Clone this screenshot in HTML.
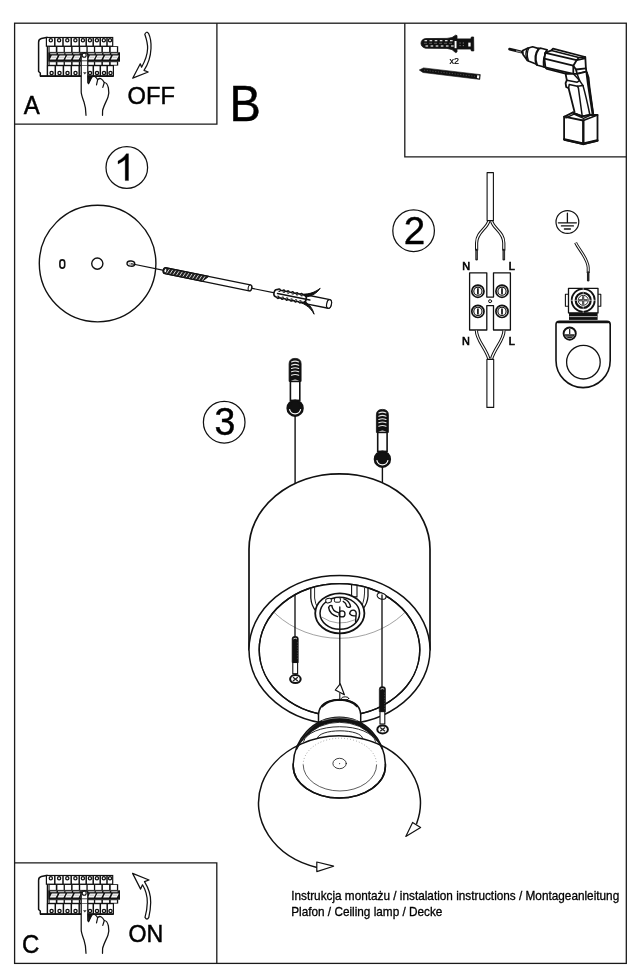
<!DOCTYPE html>
<html>
<head>
<meta charset="utf-8">
<title>Instrukcja montazu</title>
<style>
html,body{margin:0;padding:0;background:#fff;}
body{width:640px;height:980px;overflow:hidden;font-family:"Liberation Sans",sans-serif;}
svg{display:block;position:absolute;left:0;top:0;filter:grayscale(1);}
text{font-family:"Liberation Sans",sans-serif;fill:#000;}
.l{fill:none;stroke:#111;stroke-linecap:round;stroke-linejoin:round;}
.t{fill:none;stroke:#111;stroke-linecap:round;stroke-linejoin:round;}
.w{fill:#fff;stroke:#111;stroke-linecap:round;stroke-linejoin:round;}
.wt{fill:#fff;stroke:#111;stroke-linecap:round;stroke-linejoin:round;}
.k{fill:#111;stroke:none;}
</style>
</head>
<body>
<svg width="640" height="980" viewBox="0 0 640 980">
<rect x="0" y="0" width="640" height="980" fill="#fff"/>

<!-- FRAME -->
<g id="frame" fill="none" stroke="#1a1a1a" stroke-width="1.3">
<rect x="14.6" y="23.2" width="611.7" height="940.2"/>
<path d="M14.6 124.2H216.9V23.2"/>
<path d="M404.8 23.2V156.8H626.3"/>
<path d="M14.6 862.8H216.8V963.4"/>
</g>

<!-- LABELS -->
<g id="labels" stroke="#000" stroke-width="0.45">
<text transform="translate(23.7 113.8) scale(1 1.04)" font-size="24">A</text>
<text transform="translate(127.5 104) scale(1 1.04)" font-size="23.7">OFF</text>
<text transform="translate(229.6 120.9) scale(1 1.045)" font-size="47">B</text>
<text transform="translate(22 953) scale(1 1.04)" font-size="24">C</text>
<text transform="translate(128.5 942.2) scale(1 1.04)" font-size="23.2">ON</text>
<text transform="translate(291.2 899.8) scale(1 1.04)" font-size="11.8" stroke="#000" stroke-width="0.28">Instrukcja montażu / instalation instructions / Montageanleitung</text>
<text transform="translate(291.2 915.8) scale(1 1.04)" font-size="11.8" stroke="#000" stroke-width="0.28">Plafon / Ceiling lamp / Decke</text>
</g>

<!-- STEP NUMBERS -->
<g id="nums" stroke="#000" stroke-width="0.4">
<circle cx="126.8" cy="167.5" r="20.8" class="l" stroke-width="1.25"/>
<path d="M128.5 153.7 V180.6 H125.2 V159.6 Q122.4 162 118 164 V161 Q123.8 158 126.3 153.7Z" fill="#000" stroke="#000" stroke-width="0.3"/>
<circle cx="413.6" cy="230.7" r="20.8" class="l" stroke-width="1.25"/>
<text transform="translate(403.7 243.9) scale(1.03 1.04)" font-size="37.5">2</text>
<circle cx="224.2" cy="422.2" r="20.8" class="l" stroke-width="1.25"/>
<text transform="translate(214.6 435.3) scale(1 1.04)" font-size="37.5">3</text>
</g>

<g id="brk">
<path class="w" stroke-width="1.5" d="M46.4 37.5 L41.4 38.5 Q38.6 39.3 38.6 42.2 V71.5 L40.3 73 V76 H47.5 V37.5Z"/>
<rect x="46.4" y="37.5" width="66.3" height="8.7" fill="#fff" stroke="#111" stroke-width="1.2"/>
<circle cx="50.8" cy="40.3" r="1.6" fill="#fff" stroke="#111" stroke-width="1.3"/>
<path d="M54.8 37.5V46.2" stroke="#111" stroke-width="1.5" fill="none"/>
<circle cx="59.1" cy="40.3" r="1.6" fill="#fff" stroke="#111" stroke-width="1.3"/>
<path d="M63.0 37.5V46.2" stroke="#111" stroke-width="1.5" fill="none"/>
<circle cx="67.3" cy="40.3" r="1.6" fill="#fff" stroke="#111" stroke-width="1.3"/>
<path d="M71.2 37.5V46.2" stroke="#111" stroke-width="1.5" fill="none"/>
<circle cx="75.4" cy="40.3" r="1.6" fill="#fff" stroke="#111" stroke-width="1.3"/>
<path d="M79.2 37.5V46.2" stroke="#111" stroke-width="1.5" fill="none"/>
<circle cx="82.9" cy="40.3" r="1.6" fill="#fff" stroke="#111" stroke-width="1.3"/>
<path d="M86.2 37.5V46.2" stroke="#111" stroke-width="1.5" fill="none"/>
<circle cx="89.9" cy="40.3" r="1.6" fill="#fff" stroke="#111" stroke-width="1.3"/>
<path d="M93.2 37.5V46.2" stroke="#111" stroke-width="1.5" fill="none"/>
<circle cx="96.9" cy="40.3" r="1.6" fill="#fff" stroke="#111" stroke-width="1.3"/>
<path d="M100.2 37.5V46.2" stroke="#111" stroke-width="1.5" fill="none"/>
<circle cx="103.8" cy="40.3" r="1.6" fill="#fff" stroke="#111" stroke-width="1.3"/>
<path d="M107.0 37.5V46.2" stroke="#111" stroke-width="1.5" fill="none"/>
<circle cx="110.0" cy="40.3" r="1.6" fill="#fff" stroke="#111" stroke-width="1.3"/>
<rect x="48.6" y="46.2" width="69.6" height="6.3" fill="#111"/>
<rect x="49.6" y="47" width="6.2" height="4.9" fill="#fff"/>
<rect x="57.4" y="47" width="6.2" height="4.9" fill="#fff"/>
<rect x="64.9" y="47" width="6.2" height="4.9" fill="#fff"/>
<rect x="72.6" y="47" width="6.2" height="4.9" fill="#fff"/>
<rect x="80.2" y="47" width="6.2" height="4.9" fill="#fff"/>
<rect x="87.7" y="47" width="6.2" height="4.9" fill="#fff"/>
<rect x="95.2" y="47" width="6.2" height="4.9" fill="#fff"/>
<rect x="102.9" y="47" width="6.2" height="4.9" fill="#fff"/>
<rect x="110.7" y="47" width="6.2" height="4.9" fill="#fff"/>
<rect x="48.2" y="52.3" width="71.8" height="9.4" fill="#111"/>
<rect x="50.2" y="53.3" width="6.3" height="0.9" fill="#e8e8e8"/>
<path d="M49.800000000000004 59.6 L51.800000000000004 55.5 H57.7 L55.7 59.6Z" fill="#fff"/>
<path d="M51.1 58.2 L51.9 56.6 H56.5 L55.7 58.2Z" fill="#cfcfcf"/>
<rect x="58.0" y="53.3" width="6.3" height="0.9" fill="#e8e8e8"/>
<path d="M57.6 59.6 L59.6 55.5 H65.5 L63.5 59.6Z" fill="#fff"/>
<path d="M58.9 58.2 L59.699999999999996 56.6 H64.3 L63.5 58.2Z" fill="#cfcfcf"/>
<rect x="65.5" y="53.3" width="6.3" height="0.9" fill="#e8e8e8"/>
<path d="M65.10000000000001 59.6 L67.10000000000001 55.5 H73.0 L71.0 59.6Z" fill="#fff"/>
<path d="M66.4 58.2 L67.2 56.6 H71.80000000000001 L71.0 58.2Z" fill="#cfcfcf"/>
<rect x="73.19999999999999" y="53.3" width="6.3" height="0.9" fill="#e8e8e8"/>
<path d="M72.8 59.6 L74.8 55.5 H80.69999999999999 L78.69999999999999 59.6Z" fill="#fff"/>
<path d="M74.1 58.2 L74.89999999999999 56.6 H79.5 L78.69999999999999 58.2Z" fill="#cfcfcf"/>
<rect x="80.8" y="53.3" width="6.3" height="0.9" fill="#e8e8e8"/>
<path d="M80.4 59.6 L82.4 55.5 H88.3 L86.3 59.6Z" fill="#fff"/>
<path d="M81.7 58.2 L82.5 56.6 H87.10000000000001 L86.3 58.2Z" fill="#cfcfcf"/>
<rect x="88.3" y="53.3" width="6.3" height="0.9" fill="#e8e8e8"/>
<path d="M87.9 59.6 L89.9 55.5 H95.8 L93.8 59.6Z" fill="#fff"/>
<path d="M89.2 58.2 L90.0 56.6 H94.60000000000001 L93.8 58.2Z" fill="#cfcfcf"/>
<rect x="95.8" y="53.3" width="6.3" height="0.9" fill="#e8e8e8"/>
<path d="M95.4 59.6 L97.4 55.5 H103.3 L101.3 59.6Z" fill="#fff"/>
<path d="M96.7 58.2 L97.5 56.6 H102.10000000000001 L101.3 58.2Z" fill="#cfcfcf"/>
<rect x="103.5" y="53.3" width="6.3" height="0.9" fill="#e8e8e8"/>
<path d="M103.10000000000001 59.6 L105.10000000000001 55.5 H111.0 L109.0 59.6Z" fill="#fff"/>
<path d="M104.4 58.2 L105.2 56.6 H109.80000000000001 L109.0 58.2Z" fill="#cfcfcf"/>
<rect x="111.3" y="53.3" width="6.3" height="0.9" fill="#e8e8e8"/>
<path d="M110.9 59.6 L112.9 55.5 H118.8 L116.8 59.6Z" fill="#fff"/>
<path d="M112.2 58.2 L113.0 56.6 H117.60000000000001 L116.8 58.2Z" fill="#cfcfcf"/>
<rect x="48.6" y="61.5" width="69.6" height="4.1" fill="#111"/>
<rect x="49.6" y="62.2" width="6.2" height="2.6" fill="#fff"/>
<rect x="57.4" y="62.2" width="6.2" height="2.6" fill="#fff"/>
<rect x="64.9" y="62.2" width="6.2" height="2.6" fill="#fff"/>
<rect x="72.6" y="62.2" width="6.2" height="2.6" fill="#fff"/>
<rect x="80.2" y="62.2" width="6.2" height="2.6" fill="#fff"/>
<rect x="87.7" y="62.2" width="6.2" height="2.6" fill="#fff"/>
<rect x="95.2" y="62.2" width="6.2" height="2.6" fill="#fff"/>
<rect x="102.9" y="62.2" width="6.2" height="2.6" fill="#fff"/>
<rect x="110.7" y="62.2" width="6.2" height="2.6" fill="#fff"/>
<rect x="47.5" y="65.6" width="65.9" height="10.3" fill="#fff" stroke="#111" stroke-width="1.2"/>
<circle cx="51.6" cy="73" r="1.6" fill="#fff" stroke="#111" stroke-width="1.35"/>
<path d="M55.3 65.6V76" stroke="#111" stroke-width="1.5" fill="none"/>
<circle cx="59.5" cy="73" r="1.6" fill="#fff" stroke="#111" stroke-width="1.35"/>
<path d="M63.4 65.6V76" stroke="#111" stroke-width="1.5" fill="none"/>
<circle cx="67.5" cy="73" r="1.6" fill="#fff" stroke="#111" stroke-width="1.35"/>
<path d="M71.3 65.6V76" stroke="#111" stroke-width="1.5" fill="none"/>
<circle cx="75.5" cy="73" r="1.6" fill="#fff" stroke="#111" stroke-width="1.35"/>
<path d="M79.2 65.6V76" stroke="#111" stroke-width="1.5" fill="none"/>
<circle cx="83.0" cy="73" r="1.6" fill="#fff" stroke="#111" stroke-width="1.35"/>
<path d="M86.3 65.6V76" stroke="#111" stroke-width="1.5" fill="none"/>
<circle cx="90.0" cy="73" r="1.6" fill="#fff" stroke="#111" stroke-width="1.35"/>
<path d="M93.3 65.6V76" stroke="#111" stroke-width="1.5" fill="none"/>
<circle cx="97.0" cy="73" r="1.6" fill="#fff" stroke="#111" stroke-width="1.35"/>
<path d="M100.3 65.6V76" stroke="#111" stroke-width="1.5" fill="none"/>
<circle cx="104.0" cy="73" r="1.6" fill="#fff" stroke="#111" stroke-width="1.35"/>
<path d="M107.2 65.6V76" stroke="#111" stroke-width="1.5" fill="none"/>
<circle cx="110.5" cy="73" r="1.6" fill="#fff" stroke="#111" stroke-width="1.35"/>
<path d="M40 76.2H113.6" stroke="#111" stroke-width="1.5"/>
<path fill="#fff" stroke="none" d="M86 115.3 C86 110 85.6 106.8 84 102 C82.6 98 81.3 95 81.2 92 L81.2 55.5 Q81.2 52.6 84.5 52.6 Q87.8 52.6 87.8 55.5 L87.8 82.5 L88.5 83.7 L91.6 77.2 Q94.6 74.6 97.7 79.6 Q101 76.4 104.3 82.5 Q107.2 82.6 108.4 88 Q109.4 93 108 97 C107 100 103.6 106 102.6 110.5 L102.5 115.3Z"/>
<path class="l" stroke-width="1.25" d="M86 115.3 C86 110 85.6 106.8 84 102 C82.6 98 81.3 95 81.2 92 L81.2 55.5 Q81.2 52.6 84.5 52.6 Q87.8 52.6 87.8 55.5 L87.8 82.5 L88.5 83.7 L91.6 77.2 Q94.6 74.6 97.7 79.6 Q101 76.4 104.3 82.5 Q107.2 82.6 108.4 88 Q109.4 93 108 97 C107 100 103.6 106 102.6 110.5 L102.5 115.3"/>
<path class="l" stroke-width="1.2" d="M97.7 79.6 L96.5 84.9"/>
<path class="l" stroke-width="1.2" d="M104.3 82.5 L102.8 87.4"/>
<path d="M87.8 76.2 L92 76.9 L88.5 83.9Z" fill="#111" stroke="#111" stroke-width="0.6" stroke-linejoin="round"/>
<circle cx="84.2" cy="55.2" r="2" fill="#fff" stroke="#111" stroke-width="1.1"/>
<path class="l" stroke-width="0.8" stroke="#444" d="M82.2 60.8H86.8"/>
<path class="l" stroke-width="0.6" stroke="#999" d="M82.2 65.5H86.8"/>
<path d="M83 72.2h3.6l-1.8 2.4z" fill="#333"/>
</g>
<path class="w" stroke-width="1.25" d="M144.8 34.2 C146.8 40 147.8 44 147.6 48.5 C147.4 55 144.8 61.5 141.6 67.2 L140.3 63.8 L132.7 78.2 L148.2 72 L144 70.3 C147.6 65 150.6 57 151 48.5 C151.3 42 150 36.5 148.6 33.6 Q146.6 30.6 144.8 34.2Z"/>
<g id="tools">
<path fill="#111" stroke="#111" stroke-width="0.8" stroke-linejoin="round" d="M421 43.2 Q421.2 39.4 425.5 38.6 L447 38.4 L452 37.6 L455.6 35.2 L457 35.6 L457 38.9 L470.8 38.9 L471.4 37 L473.6 37 L473.8 50.9 L471.4 50.9 L470.8 49 L457 49 L457 52 L455.6 52.6 L452 49.6 L447 48.4 L425.5 48.2 Q421.2 47.2 421 43.2Z"/>
<path d="M424.5 40.7h2.6" stroke="#fff" stroke-width="1.1"/>
<path d="M425.5 46h2.6" stroke="#fff" stroke-width="1.1"/>
<path d="M429.6 40.7h2.6" stroke="#fff" stroke-width="1.1"/>
<path d="M430.6 46h2.6" stroke="#fff" stroke-width="1.1"/>
<path d="M434.7 40.7h2.6" stroke="#fff" stroke-width="1.1"/>
<path d="M435.7 46h2.6" stroke="#fff" stroke-width="1.1"/>
<path d="M439.8 40.7h2.6" stroke="#fff" stroke-width="1.1"/>
<path d="M440.8 46h2.6" stroke="#fff" stroke-width="1.1"/>
<path d="M444.9 40.7h2.6" stroke="#fff" stroke-width="1.1"/>
<path d="M445.9 46h2.6" stroke="#fff" stroke-width="1.1"/>
<path d="M450 40.7h2.6" stroke="#fff" stroke-width="1.1"/>
<path d="M451 46h2.6" stroke="#fff" stroke-width="1.1"/>
<path d="M424 43.3H452" stroke="#777" stroke-width="0.7" stroke-dasharray="3 2"/>
<rect x="454.6" y="41" width="1.9" height="7.2" fill="#fff"/>
<rect x="468.3" y="42.6" width="2.3" height="3.9" fill="#fff"/>
<path d="M459.5 43h1.2M462.8 43h1.2M459.5 45.6h1.2M462.8 45.6h1.2" stroke="#888" stroke-width="0.9"/>
<text transform="translate(449.6 63.5) scale(1 1.04)" font-size="9" stroke="#000" stroke-width="0.2">x2</text>
<path fill="#111" stroke="#111" stroke-width="0.6" stroke-linejoin="round" d="M419.3 70 L423.5 67.9 L477 74.2 L480.3 74.6 L479.8 79.4 L476.4 79 L423 72.5Z"/>
<path d="M477.2 75.2 L479.4 75.5 L479 78.4 L476.9 78.1Z" fill="#fff"/>
<path d="M424 70.2 L475 76.3" stroke="#666" stroke-width="0.7" stroke-dasharray="1.2 1.6"/>
<path d="M509.6 49.2 L523 52.4" stroke="#111" stroke-width="2.8" stroke-linecap="round"/>
<path d="M516 50.9 L521 52.1" stroke="#888" stroke-width="1.1"/>
<path class="w" stroke-width="1.7" d="M522.8 50.6 L527.6 48.2 L532.6 46.8 L538.8 48.6 L541 48.2 L547 49.8 L545 53.4 L545.4 67.4 L543.2 66.8 L537.6 65.2 L536 64 L529 61.2 L527.4 60.4 L523 54.4Z"/>
<path class="l" stroke-width="1.4" d="M527.6 48.2 Q524.4 53.6 527.4 60.4"/>
<path class="l" stroke-width="1.2" d="M529 47.7 Q525.8 54 528.6 61"/>
<path class="l" stroke-width="2.2" d="M538.8 48.6 Q533.4 56 536.8 64.6"/>
<path class="l" stroke-width="1.5" d="M547 49.8 Q542.6 57 543.6 66.8"/>
<path class="w" stroke-width="1.8" d="M545.4 52.9 L551.4 50.4 L553 48.7 L585.3 57 L585.9 68.4 L586.4 71.7 L577.1 73.9 L573.3 73.9 L564.5 73.4 L547 69 L545.4 67.4 L544.4 58.6Z"/>
<path class="l" stroke-width="1.5" d="M551.4 50.4 L578.8 57.5 L585.3 57"/>
<path class="l" stroke-width="1.8" d="M545.4 52.9 L576.6 60.2 L585 58.4"/>
<path class="l" stroke-width="1.8" d="M544.4 58.6 L573.3 65.7"/>
<path class="l" stroke-width="1.7" d="M545.4 67.4 L573.3 73.9"/>
<path class="l" stroke-width="1.5" d="M576.6 60.2 L578.4 58"/>
<path class="l" stroke-width="1.8" d="M576.6 60.2 L573.3 65.7 L576 69.5 L585.9 68.4"/>
<path class="l" stroke-width="1.8" d="M573.3 65.7 L573.3 73.9"/>
<path class="l" stroke-width="1.8" d="M576 69.5 L577.1 73.9"/>
<path class="w" stroke-width="1.8" d="M565.6 73.9 L566.8 80.2 L565.6 83.2 L566.2 87 L568.6 88.2 L574.5 111.7 L572.6 112.6 L582.2 116.4 L590 115 L593.2 113.9 L589.4 86 L588.6 77.5 L586.4 71.7 L577.1 73.9Z"/>
<path class="l" stroke-width="1.5" d="M566.8 80.2 L577.2 82.2 L579.6 80.6 L573.6 74"/>
<path class="l" stroke-width="1.5" d="M568.6 88.2 L569.2 84.6 L577.4 86.2 L583 85.4"/>
<path class="l" stroke-width="1.5" d="M577.4 86.2 L578.4 88.2 L582.2 116"/>
<path class="l" stroke-width="1.5" d="M577.1 73.9 L579.6 80.6 L583 85.6 Q586 96 589.9 115"/>
<path class="l" stroke-width="2.4" d="M586.8 73 L588.2 84 L592.6 112.6"/>
<path class="w" stroke-width="1.8" d="M564.1 116.7 L572.6 112.6 L582.2 116.4 L590 115 L597.5 115 L597.5 140.7 L583.3 144 L564.1 139.6Z"/>
<path class="l" stroke-width="1.8" d="M564.1 116.7 L583.3 120.5 L597.5 115"/>
<path class="l" stroke-width="1.4" d="M566 117.9 L574 114.2 L583.6 118.4 L590 115.4"/>
<path class="l" stroke-width="2.4" d="M583.3 120.5 V144"/>
<path class="l" stroke-width="2.6" d="M564.4 139.4 L583.3 143.8 L597.3 140.5"/>
</g>
<g id="step1">
<circle cx="97.6" cy="263.6" r="58.3" class="l" stroke-width="1.4"/>
<circle cx="97.3" cy="263.6" r="5.6" class="l" stroke-width="1.4"/>
<rect x="59.9" y="259.9" width="4.8" height="8.2" rx="2.4" ry="2.6" class="l" stroke-width="1.6"/>
<ellipse cx="130.9" cy="263.6" rx="3.9" ry="2.6" class="l" stroke-width="1.4" transform="rotate(8 130.9 263.6)"/>
<ellipse cx="130.6" cy="263.9" rx="2" ry="1.2" fill="#bbb" transform="rotate(8 130.9 263.6)"/>
<g transform="translate(131.5 263.8) rotate(11.5)">
<path class="l" stroke-width="1.1" d="M0 0H33"/>
<path class="l" stroke-width="1.1" d="M122 0H146"/>
<path class="w" stroke-width="1.3" d="M35 -3 H120.6 Q122.8 -3 122.8 0 Q122.8 3 120.6 3 H35 Q32.4 3 32.4 0 Q32.4 -3 35 -3Z"/>
<ellipse cx="120.8" cy="0" rx="1.7" ry="3" class="w" stroke-width="1"/>
<path d="M35 -3 H78 L72.6 3 H35 Q32.4 3 32.4 0 Q32.4 -3 35 -3Z" fill="#222" stroke="#111" stroke-width="1.1" stroke-linejoin="round"/>
<path d="M38.2 -2.2 L36.4 2.2" stroke="#ddd" stroke-width="0.9"/>
<path d="M41.5 -2.2 L39.7 2.2" stroke="#ddd" stroke-width="0.9"/>
<path d="M44.8 -2.2 L43.0 2.2" stroke="#ddd" stroke-width="0.9"/>
<path d="M48.1 -2.2 L46.3 2.2" stroke="#ddd" stroke-width="0.9"/>
<path d="M51.4 -2.2 L49.6 2.2" stroke="#ddd" stroke-width="0.9"/>
<path d="M54.7 -2.2 L52.9 2.2" stroke="#ddd" stroke-width="0.9"/>
<path d="M58.0 -2.2 L56.2 2.2" stroke="#ddd" stroke-width="0.9"/>
<path d="M61.3 -2.2 L59.5 2.2" stroke="#ddd" stroke-width="0.9"/>
<path d="M64.6 -2.2 L62.8 2.2" stroke="#ddd" stroke-width="0.9"/>
<path d="M67.9 -2.2 L66.1 2.2" stroke="#ddd" stroke-width="0.9"/>
<path d="M71.2 -2.2 L69.4 2.2" stroke="#ddd" stroke-width="0.9"/>
<path d="M74.5 -2.2 L72.7 2.2" stroke="#ddd" stroke-width="0.9"/>
<ellipse cx="34.6" cy="0" rx="1.4" ry="2.2" fill="#fff" stroke="#111" stroke-width="0.8"/>
<path class="w" stroke-width="1.4" d="M178 -4.4 H201.6 Q203.8 -4 203.8 0 Q203.8 4 201.6 4.4 H178Z"/>
<ellipse cx="201.6" cy="0" rx="2.4" ry="4.3" class="w" stroke-width="1.2"/>
<path d="M165 -3.8 C174 -3.4 183 -5.6 189.8 -13.6 C186 -4.4 177 -0.6 168 -1Z" fill="#111" stroke="#111" stroke-width="0.9" stroke-linejoin="round"/>
<path d="M167 3.6 C176 3.8 183.6 6.4 189 13 C185 4.6 177 1 170 1Z" fill="#111" stroke="#111" stroke-width="0.9" stroke-linejoin="round"/>
<path class="w" stroke-width="1.6" d="M145.4 0 Q145.4 -3.6 148 -3.8 Q150.1 -5.6 151.2 -3.8 L153.5 -3.8 Q154.6 -5.6 155.7 -3.8 L158.0 -3.8 Q159.1 -5.6 160.2 -3.8 L162.5 -3.8 Q163.6 -5.6 164.7 -3.8 L167.0 -3.8 Q168.1 -5.6 169.2 -3.8 L171.5 -3.8 Q172.6 -5.6 173.7 -3.8 L176.0 -3.8 L178 -2 L178 2 L176 3.8 L173.7 3.8 Q172.6 5.6 171.5 3.8 L169.2 3.8 Q168.1 5.6 167.0 3.8 L164.7 3.8 Q163.6 5.6 162.5 3.8 L160.2 3.8 Q159.1 5.6 158.0 3.8 L155.7 3.8 Q154.6 5.6 153.5 3.8 L151.2 3.8 Q150.1 5.6 149.0 3.8 Q145.4 3.6 145.4 0Z"/>
<path d="M149 0 H182" stroke="#111" stroke-width="1.5" stroke-linecap="round"/>
<path d="M149.4 -2.6 h2 M149.4 2.6 h2" stroke="#111" stroke-width="1.2"/>
<path d="M153.9 -2.6 h2 M153.9 2.6 h2" stroke="#111" stroke-width="1.2"/>
<path d="M158.4 -2.6 h2 M158.4 2.6 h2" stroke="#111" stroke-width="1.2"/>
<path d="M162.9 -2.6 h2 M162.9 2.6 h2" stroke="#111" stroke-width="1.2"/>
<path d="M167.4 -2.6 h2 M167.4 2.6 h2" stroke="#111" stroke-width="1.2"/>
<path d="M171.9 -2.6 h2 M171.9 2.6 h2" stroke="#111" stroke-width="1.2"/>
</g>
</g>
<g id="step2">
<rect x="487.1" y="172.6" width="6.3" height="48" class="w" stroke-width="1.1"/>
<path d="M488.8 221 C486.8 229 476.6 232 476.6 243 V250.5" fill="none" stroke="#111" stroke-width="3.2" stroke-linecap="butt"/>
<path d="M488.8 221 C486.8 229 476.6 232 476.6 243 V250.5" fill="none" stroke="#fff" stroke-width="1.2" stroke-linecap="butt"/>
<path d="M476.6 250V259.2" stroke="#222" stroke-width="2.6" stroke-linecap="round"/>
<path d="M476.6 251V258.8" stroke="#999" stroke-width="0.5"/>
<path d="M491.6 221 C493.6 229 503.8 232 503.8 243 V250.5" fill="none" stroke="#111" stroke-width="3.2" stroke-linecap="butt"/>
<path d="M491.6 221 C493.6 229 503.8 232 503.8 243 V250.5" fill="none" stroke="#fff" stroke-width="1.2" stroke-linecap="butt"/>
<path d="M503.8 250V259.2" stroke="#222" stroke-width="2.6" stroke-linecap="round"/>
<path d="M503.8 251V258.8" stroke="#999" stroke-width="0.5"/>
<path d="M487.1 220.6H493.4" stroke="#111" stroke-width="1.2"/>
<g font-size="10.9" stroke="#000" stroke-width="0.65">
<text transform="translate(462.3 269.5) scale(1 1.04)">N</text>
<text transform="translate(508.8 269.5) scale(1 1.04)">L</text>
<text transform="translate(462 345) scale(1 1.04)">N</text>
<text transform="translate(508.8 345) scale(1 1.04)">L</text>
</g>
<path class="w" stroke-width="1.3" d="M469.6 272.8 H486.8 V297.1 H493.5 V272.8 H510.4 V330 H493.5 V305.6 H486.8 V330 H469.6Z"/>
<circle cx="490.1" cy="301.2" r="1.5" class="w" stroke-width="1"/>
<circle cx="477.9" cy="291.2" r="6.1" fill="#fff" stroke="#111" stroke-width="1.7"/>
<circle cx="477.9" cy="291.2" r="4.1" fill="#fff" stroke="#111" stroke-width="1.1"/>
<path d="M477.9 288.2V294.2" stroke="#111" stroke-width="1.7"/>
<circle cx="477.9" cy="311.4" r="6.1" fill="#fff" stroke="#111" stroke-width="1.7"/>
<circle cx="477.9" cy="311.4" r="4.1" fill="#fff" stroke="#111" stroke-width="1.1"/>
<path d="M477.9 308.4V314.4" stroke="#111" stroke-width="1.7"/>
<circle cx="502" cy="291.2" r="6.1" fill="#fff" stroke="#111" stroke-width="1.7"/>
<circle cx="502" cy="291.2" r="4.1" fill="#fff" stroke="#111" stroke-width="1.1"/>
<path d="M502 288.2V294.2" stroke="#111" stroke-width="1.7"/>
<circle cx="502" cy="311.4" r="6.1" fill="#fff" stroke="#111" stroke-width="1.7"/>
<circle cx="502" cy="311.4" r="4.1" fill="#fff" stroke="#111" stroke-width="1.1"/>
<path d="M502 308.4V314.4" stroke="#111" stroke-width="1.7"/>
<path d="M476.4 330.4 C476.4 340 485.8 348 488.8 358.8" fill="none" stroke="#111" stroke-width="3.2"/>
<path d="M476.4 330.4 C476.4 340 485.8 348 488.8 358.8" fill="none" stroke="#fff" stroke-width="1.2"/>
<path d="M504.0 330.4 C504.0 340 494.6 348 491.6 358.8" fill="none" stroke="#111" stroke-width="3.2"/>
<path d="M504.0 330.4 C504.0 340 494.6 348 491.6 358.8" fill="none" stroke="#fff" stroke-width="1.2"/>
<rect x="486.9" y="359.4" width="6.8" height="48" class="w" stroke-width="1.1"/>
<circle cx="567.4" cy="222" r="11.4" class="l" stroke-width="1.2"/>
<path class="l" stroke-width="1.3" d="M567.4 213.2V222.8 M558.4 222.8H576.4 M561.4 225.9H573.4 M564.4 229H570.4"/>
<path d="M575.6 242.6 C579 250 587.6 258 588.2 267.5 V273" fill="none" stroke="#111" stroke-width="3" stroke-linecap="butt"/>
<path d="M575.6 242.6 C579 250 587.6 258 588.2 267.5 V273" fill="none" stroke="#fff" stroke-width="1.1" stroke-linecap="butt"/>
<path d="M588.2 272.5V280.2" stroke="#222" stroke-width="2.5" stroke-linecap="round"/>
<rect x="565.4" y="294.2" width="35.4" height="12.1" class="w" stroke-width="1.1"/>
<rect x="568.5" y="288.3" width="29.5" height="24.6" class="w" stroke-width="1.3"/>
<circle cx="583.2" cy="300.3" r="11.5" fill="#fff" stroke="#111" stroke-width="1.8"/>
<circle cx="583.2" cy="300.3" r="7.5" fill="#fff" stroke="#111" stroke-width="2.2"/>
<circle cx="583.2" cy="300.3" r="5" fill="#fff" stroke="#111" stroke-width="0.9"/>
<path d="M583.2 296.2V304.4M579.1 300.3H587.3" stroke="#111" stroke-width="2"/>
<path d="M583.2 296.6V304M579.5 300.3H586.9" stroke="#ddd" stroke-width="0.5"/>
<path d="M583.2 287.5V294.5M583.2 306V313M570.5 300.3H577.5M589 300.3H596" stroke="#eee" stroke-width="0.6"/>
<rect x="569" y="312.9" width="28.6" height="7" fill="#111"/>
<path d="M569.4 316.6H597.2" stroke="#ddd" stroke-width="0.8"/>
<path class="w" stroke-width="1.6" d="M559.6 321.4 H607 Q610.2 321.4 610.2 324.6 V360.5 A27.1 27.1 0 0 1 556 360.5 V324.6 Q556 321.4 559.6 321.4Z"/>
<path d="M558 322.2H608.4" stroke="#111" stroke-width="2.2" stroke-linecap="round"/>
<circle cx="583.4" cy="362.2" r="16.8" class="l" stroke-width="1.3"/>
<circle cx="569.7" cy="333.6" r="6.1" fill="#fff" stroke="#111" stroke-width="1.9"/>
<path d="M564.8 334.2 H574.6 A5 5 0 0 1 564.8 334.2Z" fill="#222"/>
<path d="M569.7 329V334" stroke="#111" stroke-width="1.2"/>
<path d="M566 336.2H573.4" stroke="#bbb" stroke-width="0.6"/>
</g>
<g id="step3">
<defs><clipPath id="cin"><ellipse cx="339.5" cy="649.8" rx="80.3" ry="66"/></clipPath></defs>
<path class="l" stroke-width="1.4" d="M295.1 416V483.6"/>
<path class="l" stroke-width="1.4" d="M382.4 467V483.6"/>
<path class="w" stroke-width="1.7" stroke="#222" d="M249 649.8 V549 A90.5 75.2 0 0 1 430 549 V649.8"/>
<ellipse cx="339.5" cy="649.8" rx="90.5" ry="74.4" class="w" stroke-width="1.5"/>
<ellipse cx="339.5" cy="649.8" rx="80.3" ry="66" class="w" stroke-width="1.4"/>
<g clip-path="url(#cin)">
<ellipse cx="339.5" cy="555.8" rx="90" ry="82.5" fill="none" stroke="#8a8a8a" stroke-width="0.8"/>
<path class="w" stroke-width="1.3" d="M310.8 580 V598 Q311.4 606 316 611 L363 609 Q367.6 603 368 596 V580Z"/>
<path class="l" stroke-width="0.9" d="M314.6 586 V598 Q315 604 318 608"/>
<path class="l" stroke-width="0.9" d="M364.6 588 Q365 599 361.8 606"/>
<path class="w" stroke-width="1.1" d="M351.6 580 V596.9 H357 V580"/>
</g>
<ellipse cx="339.5" cy="649.8" rx="80.3" ry="66" class="l" stroke-width="1.4"/>
<ellipse cx="339.8" cy="613.3" rx="24.6" ry="20" class="w" stroke-width="1.8"/>
<ellipse cx="339.8" cy="613.3" rx="19.8" ry="16" class="w" stroke-width="1.5"/>
<path d="M322 617.2 Q337 627.5 355.6 619.6" fill="none" stroke="#8a8a8a" stroke-width="0.8"/>
<rect x="325.6" y="598.6" width="5.6" height="4.2" rx="1.6" class="w" stroke-width="1" transform="rotate(-14 328 600)"/>
<rect x="334.4" y="597.6" width="6" height="4.6" rx="1.4" class="w" stroke-width="1"/>
<path class="l" stroke-width="1.3" d="M343.8 598.8 Q349.4 600.6 350.6 606.6 Q348.6 608 346.8 606.6 Q346 602.8 343.2 601.4"/>
<path class="l" stroke-width="1.4" d="M328.6 607.4 Q329.4 614.2 337.6 616.6 M331.8 605.6 Q332.6 611.2 338.2 612.6"/>
<path class="l" stroke-width="1.2" d="M328.6 607.4 Q329.6 605 331.8 605.6"/>
<circle cx="342" cy="613.9" r="3" class="w" stroke-width="1.3"/>
<path class="l" stroke-width="1.4" d="M349.6 613.6 Q350.4 609.6 354 610.2 Q357 611.4 356 615.6 L355.6 622"/>
<path class="l" stroke-width="1.2" d="M349.6 613.6 Q351.6 616.6 355.6 615.8"/>
<ellipse cx="381.6" cy="596.1" rx="4.6" ry="3" class="w" stroke-width="1.1" transform="rotate(18 381.6 596.1)"/>
<path class="l" stroke-width="1.35" d="M295 595.2V637"/>
<path class="l" stroke-width="1.35" d="M382 595V687"/>
<path class="l" stroke-width="1.35" d="M339.8 607V684"/>
<path d="M292.09999999999997 638.6999999999999 Q292.09999999999997 636.3 295.2 636.3 Q298.3 636.3 298.3 638.6999999999999 V662.5 H292.09999999999997Z" fill="#111" stroke="#111" stroke-width="0.6"/>
<path d="M293.4 638.9 Q295.2 637.5 297.0 638.9" fill="none" stroke="#ddd" stroke-width="0.9"/>
<path d="M297.4 642.3v18.2" stroke="#666" stroke-width="0.6" stroke-dasharray="1 1.6"/>
<rect x="292.8" y="662.5" width="4.8" height="11.2" fill="#fff" stroke="#111" stroke-width="1.1"/>
<ellipse cx="295.4" cy="679.1" rx="5.3" ry="4" fill="#fff" stroke="#111" stroke-width="2"/>
<path d="M293.0 677.3000000000001L297.8 680.9M297.8 677.3000000000001L293.0 680.9" stroke="#222" stroke-width="1.3"/>
<path d="M379.29999999999995 689.0 Q379.29999999999995 686.6 382.4 686.6 Q385.5 686.6 385.5 689.0 V711.6 H379.29999999999995Z" fill="#111" stroke="#111" stroke-width="0.6"/>
<path d="M380.59999999999997 689.2 Q382.4 687.8000000000001 384.2 689.2" fill="none" stroke="#ddd" stroke-width="0.9"/>
<path d="M384.59999999999997 692.6v17" stroke="#666" stroke-width="0.6" stroke-dasharray="1 1.6"/>
<rect x="380.0" y="711.6" width="4.8" height="12.4" fill="#fff" stroke="#111" stroke-width="1.1"/>
<ellipse cx="382.59999999999997" cy="729.4" rx="5.3" ry="4" fill="#fff" stroke="#111" stroke-width="2"/>
<path d="M380.2 727.6L385.0 731.1999999999999M385.0 727.6L380.2 731.1999999999999" stroke="#222" stroke-width="1.3"/>
<path class="w" stroke-width="1.2" d="M340.2 683.8 L335.3 690 L344.4 694.8Z"/>
<path class="l" stroke-width="1.1" d="M339.8 693.6V699"/>
<ellipse cx="345.2" cy="698.4" rx="3.6" ry="1.6" class="w" stroke-width="1"/>
<path class="w" stroke-width="1.5" d="M318.5 724 V714.5 Q319.5 700 339.6 699.8 Q359.8 700 360.7 714.5 V724Z"/>
<path class="l" stroke-width="1.9" d="M322 706.6 Q328 700 339.6 699.8 Q351 700 357 706.4"/>
<path class="w" stroke-width="1.5" d="M293.2 766 A46.1 32 0 0 0 385.4 766 A46.1 48.8 0 0 0 293.2 766Z"/>
<path d="M296.4 750 Q300 736 318.4 722.4 Q339.6 712.6 360.8 722.4 Q379 736 382.6 750 Q376 735.4 359.4 726.4 Q339.6 718.2 319.8 726.4 Q303 735.4 296.4 750Z" fill="#111" stroke="#111" stroke-width="0.8" stroke-linejoin="round"/>
<path class="l" stroke-width="0.9" d="M303.6 741.4 A36.2 16.4 0 0 1 375.6 741.4"/>
<path class="l" stroke-width="0.9" stroke="#333" d="M317.5 738.1 A22.5 7.3 0 0 1 362.5 738.1"/>
<path d="M322 720.8 Q339.6 714.8 357.4 720.8" fill="none" stroke="#bbb" stroke-width="0.6"/>
<path d="M293.2 764 L293.2 766 A46.1 32 0 0 0 385.4 766 L385.4 764" class="l" stroke-width="1.5"/>
<path d="M303.2 764.6 A36.6 26.3 0 0 0 376.6 764.6" fill="none" stroke="#333" stroke-width="0.8"/>
<path d="M303.2 764.6 A36.6 26.3 0 0 1 376.6 764.6" fill="none" stroke="#777" stroke-width="0.8" stroke-dasharray="0.8 2.2"/>
<ellipse cx="339.6" cy="763.5" rx="6.7" ry="5.2" class="l" stroke-width="0.8" stroke="#333"/>
<circle cx="339.6" cy="763.6" r="0.6" fill="#444"/>
<path class="l" stroke-width="1.5" d="M416.65 823.4 A81 67 0 1 0 317 867.4"/>
<path class="w" stroke-width="1.2" d="M412.6 822.4 L420.6 827.6 L405.8 836.4Z"/>
<path class="w" stroke-width="1.2" d="M316.8 862 L316.8 871.6 L333.6 866.2Z"/>
<path d="M289.1 363.9 Q289.1 358.4 295.1 358.4 Q301.1 358.4 301.1 363.9 V381.4 H289.1Z" fill="#111" stroke="#111" stroke-width="0.8"/>
<path d="M291.5 361.9 Q295.1 360.29999999999995 298.70000000000005 361.9" fill="none" stroke="#e8e8e8" stroke-width="1.1" stroke-linecap="round"/>
<path d="M291.5 365.2 Q295.1 363.59999999999997 298.70000000000005 365.2" fill="none" stroke="#e8e8e8" stroke-width="1.1" stroke-linecap="round"/>
<path d="M291.5 368.5 Q295.1 366.9 298.70000000000005 368.5" fill="none" stroke="#e8e8e8" stroke-width="1.1" stroke-linecap="round"/>
<path d="M291.5 371.79999999999995 Q295.1 370.19999999999993 298.70000000000005 371.79999999999995" fill="none" stroke="#e8e8e8" stroke-width="1.1" stroke-linecap="round"/>
<path d="M291.5 375.29999999999995 Q295.1 373.69999999999993 298.70000000000005 375.29999999999995" fill="none" stroke="#e8e8e8" stroke-width="1.1" stroke-linecap="round"/>
<path d="M290.90000000000003 381.0 Q295.1 378.0 299.3 381.0 V382.4H290.90000000000003Z" fill="#fff"/>
<rect x="290.40000000000003" y="381.4" width="9.4" height="19" fill="#fff" stroke="#111" stroke-width="1.6"/>
<circle cx="295.1" cy="408.2" r="7.9" fill="#111" stroke="#111" stroke-width="1.6"/>
<path d="M289.5 409.2 A5.7 5.7 0 0 0 300.70000000000005 409.2" fill="none" stroke="#fff" stroke-width="1.1"/>
<circle cx="295.1" cy="406.2" r="4.6" fill="#111"/>
<path d="M376.4 414.9 Q376.4 409.4 382.4 409.4 Q388.4 409.4 388.4 414.9 V432.4 H376.4Z" fill="#111" stroke="#111" stroke-width="0.8"/>
<path d="M378.79999999999995 412.9 Q382.4 411.29999999999995 386.0 412.9" fill="none" stroke="#e8e8e8" stroke-width="1.1" stroke-linecap="round"/>
<path d="M378.79999999999995 416.2 Q382.4 414.59999999999997 386.0 416.2" fill="none" stroke="#e8e8e8" stroke-width="1.1" stroke-linecap="round"/>
<path d="M378.79999999999995 419.5 Q382.4 417.9 386.0 419.5" fill="none" stroke="#e8e8e8" stroke-width="1.1" stroke-linecap="round"/>
<path d="M378.79999999999995 422.79999999999995 Q382.4 421.19999999999993 386.0 422.79999999999995" fill="none" stroke="#e8e8e8" stroke-width="1.1" stroke-linecap="round"/>
<path d="M378.79999999999995 426.29999999999995 Q382.4 424.69999999999993 386.0 426.29999999999995" fill="none" stroke="#e8e8e8" stroke-width="1.1" stroke-linecap="round"/>
<path d="M378.2 432.0 Q382.4 429.0 386.59999999999997 432.0 V433.4H378.2Z" fill="#fff"/>
<rect x="377.7" y="432.4" width="9.4" height="19" fill="#fff" stroke="#111" stroke-width="1.6"/>
<circle cx="382.4" cy="459.2" r="7.9" fill="#111" stroke="#111" stroke-width="1.6"/>
<path d="M376.79999999999995 460.2 A5.7 5.7 0 0 0 388.0 460.2" fill="none" stroke="#fff" stroke-width="1.1"/>
<circle cx="382.4" cy="457.2" r="4.6" fill="#111"/>
</g>
<use href="#brk" transform="translate(0 838)"/>
<path class="w" stroke-width="1.25" d="M132.6 873.4 L149 880 L144.5 881.7 C148.4 888 150.9 895 150.7 902.5 C150.6 908 149.8 913 148.8 917.4 Q147 920.8 145 917.4 C146.2 913 147.2 908 147.3 902.5 C147.4 896 145.6 890 142.5 884.8 L140.6 889.1Z"/>
</svg>
</body>
</html>
